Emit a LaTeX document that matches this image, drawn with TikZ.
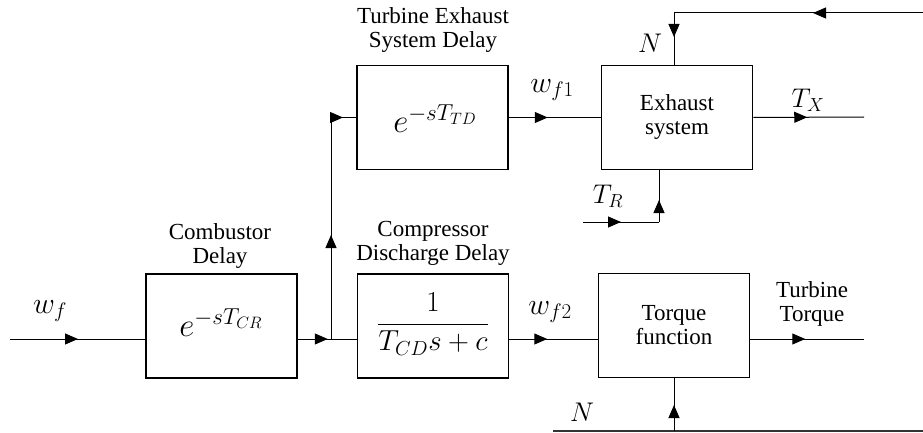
\RequirePackage{fix-cm}
\documentclass[tikz,border=0pt]{standalone}
\usepackage{fontspec}
\setmainfont{Liberation Serif}
\usetikzlibrary{arrows.meta,decorations.markings,calc}
\tikzset{
  box/.style={draw, line width=1.5pt, minimum width=151pt, minimum height=104pt, inner sep=0pt, align=center, font=\fontsize{23}{24}\selectfont},
  conn/.style={line width=1pt},
  arrowat/.style={decoration={markings, mark=at position #1 with {\arrow{Triangle[length=13pt,width=11pt]}}}, postaction={decorate}},
  captxt/.style={align=center, inner sep=0pt, font=\fontsize{23}{24}\selectfont},
  lbl/.style={inner sep=0pt, font=\fontsize{27}{30}\selectfont},
  wlbl/.style={inner sep=0pt, font=\fontsize{30}{32}\selectfont},
  bigm/.style={inner sep=0pt, font=\fontsize{33}{40}\selectfont},
  midm/.style={inner sep=0pt, font=\fontsize{29}{32}\selectfont}
}
\begin{document}
\begin{tikzpicture}[x=1pt,y=-1pt]
\useasboundingbox (0,0) rectangle (923,433);
% boxes
\node[box] (comb) at (221.5,326) {};
\node[box] (comp) at (433,326) {};
\node[box] (ted) at (432.5,117.5) {};
\node[box] (exh) at (677,117.5) {Exhaust\\system};
\node[box] (torq) at (674,325.5) {Torque\\function};
% box contents
\node[bigm] (ecr) at (221,323) {$e^{-sT_{CR}}$};
\node[bigm] (etd) at (435,119) {$e^{-sT_{TD}}$};
\node[midm] (frac) at (433,324) {$\displaystyle\frac{1}{T_{CD}s+c}$};
% captions
\node[captxt] (ccomb) at (220,246) {Combustor\\Delay};
\node[captxt] (cted) at (433,30) {Turbine Exhaust\\System Delay};
\node[captxt] (ccomp) at (433,243) {Compressor\\Discharge Delay};
\node[captxt] (ctt) at (812,304) {Turbine\\Torque};
% signal labels
\node[wlbl] (lwf) at (50,311) {$w_f$};
\node[wlbl] (lwf1) at (552,90) {$w_{f1}$};
\node[wlbl] (lwf2) at (550,312) {$w_{f2}$};
\node[lbl] (lTX) at (808,100) {$T_X$};
\node[lbl] (lTR) at (608,196) {$T_R$};
\node[lbl] (lN1) at (650,43) {$N$};
\node[lbl] (lN2) at (582,412) {$N$};
% coordinates
\coordinate (in) at (10,339);
\coordinate (J) at (331,339);
\coordinate (Tx) at (864,117);
\coordinate (TT) at (864,339);
\coordinate (Ntop) at (923,13);
\coordinate (Nc) at (674,13);
\coordinate (TRin) at (583,222);
\coordinate (TRc) at (659,222);
\coordinate (NL) at (553,431);
\coordinate (NR) at (923,431);
% connectors
\draw[conn, arrowat=68pt] (in) -- (in -| comb.west);
\draw[conn, arrowat=30pt] (J -| comb.east) -- (J);
\draw[conn] (J) -- (J -| comp.west);
\draw[conn, arrowat=104pt] (J) -- (J |- ted.west);
\draw[conn, arrowat=12pt] (J |- ted.west) -- (ted.west);
\draw[conn, arrowat=39pt] (ted.east) -- (exh.west);
\draw[conn, arrowat=38pt] (J -| comp.east) -- (J -| torq.west);
\draw[conn, arrowat=54pt] (exh.east) -- (Tx);
\draw[conn, arrowat=55pt] (J -| torq.east) -- (TT);
\draw[conn, arrowat=110pt] (Ntop) -- (Nc);
\draw[conn, arrowat=24pt] (Nc) -- (Nc |- exh.north);
\draw[conn, arrowat=38pt] (TRin) -- (TRc);
\draw[conn, arrowat=22pt] (TRc) -- (TRc |- exh.south);
\draw[line width=1.5pt, black!80] (NL) -- (NR);
\draw[conn, arrowat=26pt] (torq.south |- NL) -- (torq.south);
\end{tikzpicture}
\end{document}
